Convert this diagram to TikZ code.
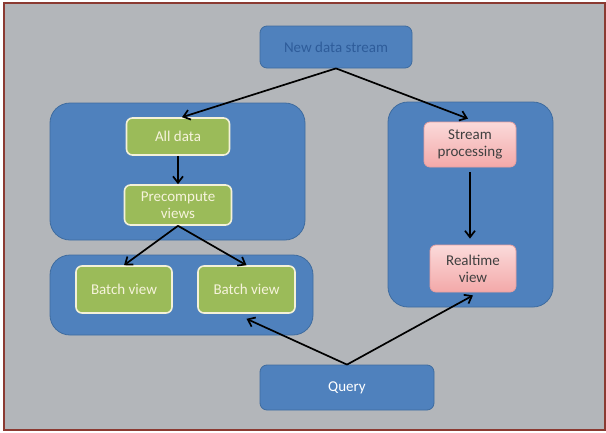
\documentclass[tikz,border=0pt]{standalone}
\usepackage{fontspec}
\setmainfont{Carlito}
\usetikzlibrary{arrows.meta,shadows}
\definecolor{slidegray}{HTML}{B3B6BA}
\definecolor{framered}{HTML}{8B3A32}
\definecolor{boxblue}{HTML}{4F81BD}
\definecolor{boxblueedge}{HTML}{3F6C9F}
\definecolor{leafgreen}{HTML}{9BBB59}
\definecolor{leafedge}{HTML}{F4F1D8}
\definecolor{leaftext}{HTML}{F6F3DC}
\definecolor{pinktop}{HTML}{FBDADA}
\definecolor{pinkbottom}{HTML}{F3A9A9}
\definecolor{pinkedge}{HTML}{E8A0A0}
\definecolor{darktext}{HTML}{404040}
\definecolor{navytext}{HTML}{2E5C9A}
\tikzset{
  container/.style={fill=boxblue, draw=boxblueedge, line width=0.8pt,
    rounded corners=20pt, inner sep=0pt},
  bluebox/.style={fill=boxblue, draw=boxblueedge, line width=0.8pt,
    rounded corners=7pt, inner sep=0pt, font=\fontsize{15}{17}\selectfont},
  greenbox/.style={fill=leafgreen, draw=leafedge, line width=1.6pt,
    rounded corners=6pt, inner sep=0pt, text=leaftext, align=center,
    font=\fontsize{15}{17}\selectfont},
  pinkbox/.style={top color=pinktop, bottom color=pinkbottom, draw=pinkedge,
    line width=0.8pt, rounded corners=6pt, inner sep=0pt, text=darktext,
    align=center, font=\fontsize{15}{17}\selectfont},
  flow/.style={draw=black, line width=1.7pt,
    -{Straight Barb[length=6.5pt,width=10pt,line width=1.7pt]}},
}
\begin{document}
\begin{tikzpicture}[x=1pt,y=-1pt]
\useasboundingbox (0,0) rectangle (606,432);
% slide background and frame
\fill[white] (0,0) rectangle (606,432);
\draw[fill=slidegray, draw=framered, line width=1.4pt] (4,3) rectangle (605,430);

% group containers
\node[container, minimum width=255pt, minimum height=137pt] (batchlayer) at (177.5,171.5) {};
\node[container, minimum width=263pt, minimum height=80pt] (servinglayer) at (181.5,295) {};
\node[container, minimum width=165pt, minimum height=205pt] (speedlayer) at (470.5,204.5) {};

% top and bottom boxes
\node[bluebox, text=navytext, minimum width=152pt, minimum height=42pt] (stream) at (336,47) {New data stream};
\node[bluebox, text=white, minimum width=174pt, minimum height=45pt] (query) at (347,387.5) {Query};

% batch layer
\node[greenbox, minimum width=103pt, minimum height=37pt] (alldata) at (178,136.5) {All data};
\node[greenbox, minimum width=107pt, minimum height=40pt] (precompute) at (178,205) {Precompute\\views};

% serving layer
\node[greenbox, minimum width=96pt, minimum height=47pt] (batchA) at (124,289.5) {Batch view};
\node[greenbox, minimum width=97pt, minimum height=47pt] (batchB) at (246.5,289.5) {Batch view};

% speed layer
\node[pinkbox, minimum width=92pt, minimum height=45pt] (streamproc) at (470,144.5) {Stream\\processing};
\node[pinkbox, minimum width=86pt, minimum height=47pt] (realtime) at (473,268.5) {Realtime\\view};

% connectors
\draw[flow] (stream.south) -- ([xshift=4pt]alldata.north);
\draw[flow] (stream.south) -- ([xshift=-2pt,yshift=3pt]streamproc.north);
\draw[flow] (alldata.south) -- (precompute.north);
\draw[flow] (precompute.south) -- (batchA.north);
\draw[flow] (precompute.south) -- (batchB.north);
\draw[flow, shorten <=5pt, shorten >=6pt] (streamproc.south) -- ([xshift=-3pt]realtime.north);
\draw[flow] (query.north) -- ([yshift=-5pt]batchB.south);
\draw[flow] (query.north) -- ([yshift=-3pt]realtime.south);
\end{tikzpicture}
\end{document}
